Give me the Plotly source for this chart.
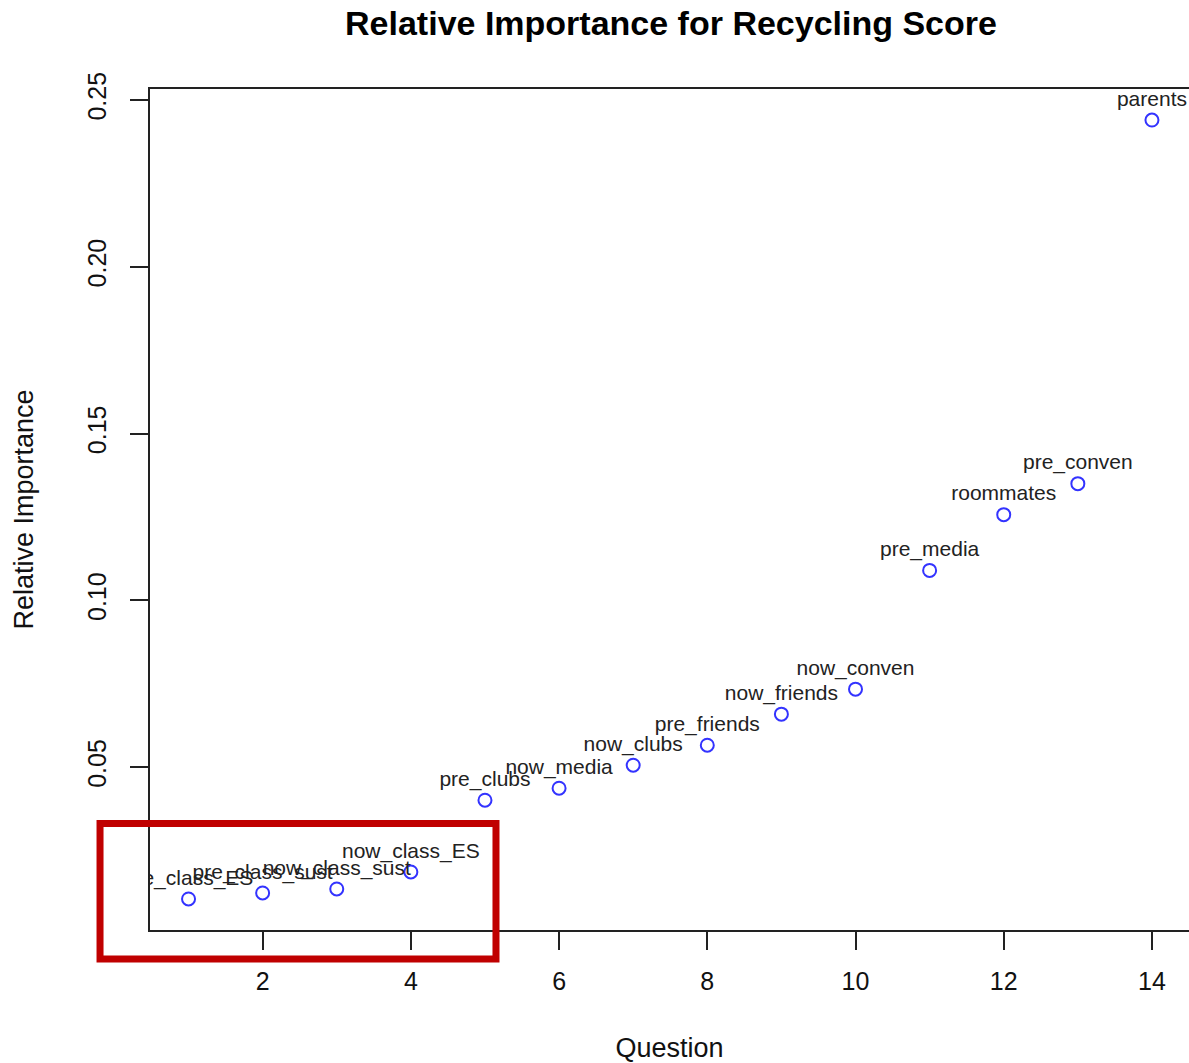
import plotly.graph_objects as go

questions = list(range(1, 15))
labels = ["pre_class_ES", "pre_class_sust", "now_class_sust", "now_class_ES",
          "pre_clubs", "now_media", "now_clubs", "pre_friends", "now_friends",
          "now_conven", "pre_media", "roommates", "pre_conven", "parents"]
importance = [0.0105, 0.0123, 0.0135, 0.0186, 0.0401, 0.0437, 0.0506, 0.0566,
              0.0659, 0.0734, 0.1090, 0.1257, 0.1350, 0.2440]
y_ticks = [0.05, 0.10, 0.15, 0.20, 0.25]
x_ticks = [2, 4, 6, 8, 10, 12, 14]

FONT = "Liberation Sans, Arial, Helvetica, sans-serif"
W, H = 1189, 1063

fig = go.Figure()
fig.add_trace(go.Scatter(
    x=questions, y=importance, mode="markers+text",
    text=labels, textposition="top center",
    textfont=dict(family=FONT, size=21, color="#222222"),
    marker=dict(symbol="circle-open", size=13, color="#3333ff",
                line=dict(width=2, color="#3333ff")),
    cliponaxis=True, showlegend=False, hoverinfo="x+y+text",
))

fig.update_layout(
    width=W, height=H,
    margin=dict(l=150, r=0, t=89, b=133),
    paper_bgcolor="white", plot_bgcolor="white",
    font=dict(family=FONT, color="black"),
    title=dict(text="<b>Relative Importance for Recycling Score</b>",
               x=671 / W, xanchor="center",
               y=1 - 23 / H, yanchor="middle",
               font=dict(family=FONT, size=34, color="black")),
    shapes=[dict(type="rect", xref="paper", yref="paper",
                 x0=-0.0481, x1=0.333, y0=-0.0345, y1=0.1266,
                 line=dict(color="#c00000", width=7), layer="above")],
)

fig.update_xaxes(
    range=[0.48, 14.5], tickvals=x_ticks, ticktext=[str(v) for v in x_ticks],
    automargin=False,
    showgrid=False, zeroline=False,
    showline=True, linecolor="#222222", linewidth=1.5, mirror=True,
    ticks="outside", ticklen=18, tickwidth=1.5, tickcolor="#222222",
    ticklabelstandoff=10,
    tickfont=dict(family=FONT, size=25, color="#111111"),
    title=dict(text="Question", font=dict(family=FONT, size=27, color="#111111"),
               standoff=55),
)
fig.update_yaxes(
    range=[0.0012, 0.2533], tickvals=y_ticks, ticktext=[f"{v:.2f}" for v in y_ticks],
    tickangle=-90, automargin=False,
    showgrid=False, zeroline=False,
    showline=True, linecolor="#222222", linewidth=1.5, mirror=True,
    ticks="outside", ticklen=18, tickwidth=1.5, tickcolor="#222222",
    ticklabelstandoff=14,
    tickfont=dict(family=FONT, size=25, color="#111111"),
    title=dict(text="Relative Importance", font=dict(family=FONT, size=27, color="#111111"),
               standoff=42),
)

fig.write_html(
    "out.html",
    config={"displayModeBar": False},
    post_script="document.body.style.margin='0';document.body.style.overflow='hidden';",
)
